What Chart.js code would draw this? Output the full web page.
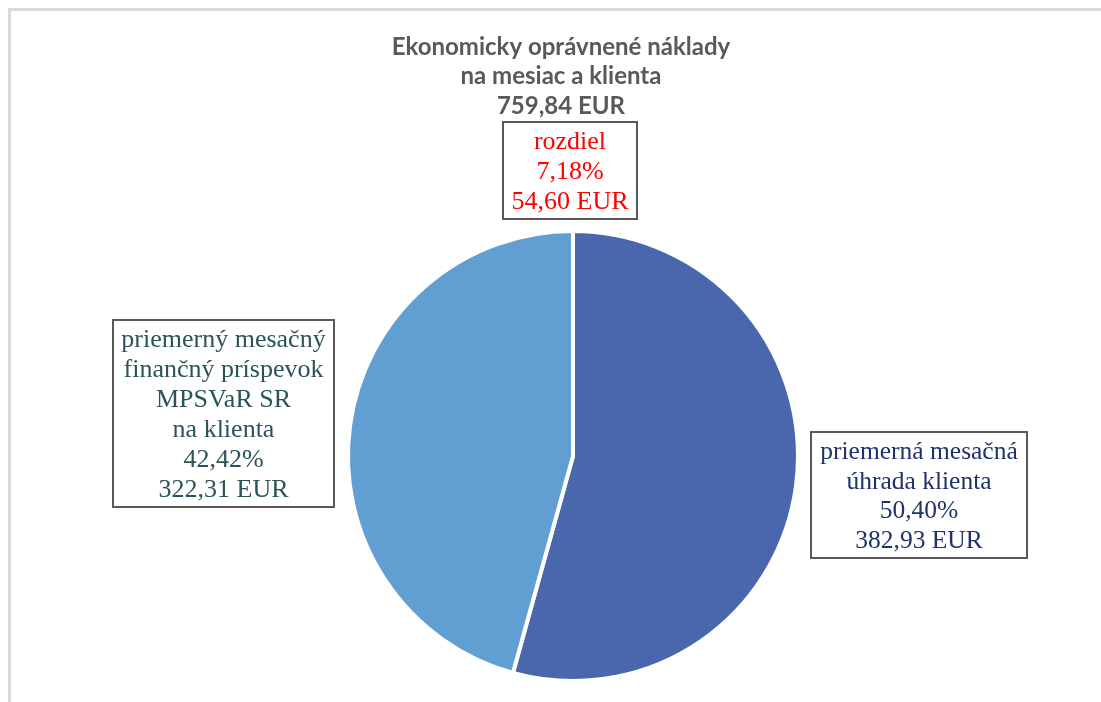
<!DOCTYPE html>
<html>
<head>
<meta charset="utf-8">
<script src="https://cdn.jsdelivr.net/npm/chart.js@4.4.0/dist/chart.umd.min.js"></script>
<style>
  html, body { margin: 0; padding: 0; background: #ffffff; }
  #wrap { width: 1101px; height: 702px; position: relative; }
</style>
</head>
<body>
<div id="wrap"><canvas id="c" width="1101" height="702"></canvas></div>
<script>
// ---- data ----
const categories = ["priemerná mesačná úhrada klienta", "priemerný mesačný finančný príspevok MPSVaR SR na klienta"];
const values = [382.93, 322.31];
const colors = ["#4a67ad", "#619ed2"];
const titleLines = ["Ekonomicky oprávnené náklady", "na mesiac a klienta", "759,84 EUR"];
const diffLines = ["rozdiel", "7,18%", "54,60 EUR"];
const rightLines = ["priemerná mesačná", "úhrada klienta", "50,40%", "382,93 EUR"];
const leftLines = ["priemerný mesačný", "finančný príspevok", "MPSVaR SR", "na klienta", "42,42%", "322,31 EUR"];

function drawBox(ctx, x, y, w, h, lines, color, lineH, font) {
  ctx.save();
  ctx.fillStyle = "#ffffff";
  ctx.fillRect(x, y, w, h);
  ctx.strokeStyle = "#595959";
  ctx.lineWidth = 2;
  ctx.strokeRect(x, y, w, h);
  ctx.fillStyle = color;
  ctx.font = font;
  ctx.textAlign = "center";
  ctx.textBaseline = "middle";
  const total = lines.length * lineH;
  let cy = y + (h - total) / 2 + lineH / 2 + 2;
  lines.forEach(l => { ctx.fillText(l, x + w / 2, cy); cy += lineH; });
  ctx.restore();
}

const decor = {
  id: "decor",
  beforeDraw(chart) {
    const ctx = chart.ctx;
    ctx.save();
    ctx.fillStyle = "#ffffff";
    ctx.fillRect(0, 0, chart.width, chart.height);
    ctx.fillStyle = "#d9d9d9";
    ctx.fillRect(8, 8, chart.width - 8, 3);
    ctx.fillRect(8, 8, 3, chart.height - 8);
    ctx.restore();
  },
  afterDraw(chart) {
    const ctx = chart.ctx;
    ctx.save();
    ctx.fillStyle = "#595959";
    ctx.font = "bold 24px Lato";
    ctx.textAlign = "center";
    ctx.textBaseline = "middle";
    const tx = 561;
    titleLines.forEach((l, i) => ctx.fillText(l, tx, 47 + i * 29.5));
    ctx.restore();
    const serif = "26px 'Liberation Serif'";
    drawBox(ctx, 503, 122, 134, 97, diffLines, "#ff0000", 30, serif);
    drawBox(ctx, 113, 320, 221, 187, leftLines, "#2a5457", 30, serif);
    drawBox(ctx, 811, 432, 216, 126, rightLines, "#1f326b", 29.5, "25.5px 'Liberation Serif'");
  }
};

new Chart(document.getElementById("c"), {
  type: "pie",
  data: {
    labels: categories,
    datasets: [{
      data: values,
      backgroundColor: colors,
      borderColor: "#ffffff",
      borderWidth: 4
    }]
  },
  options: {
    responsive: false,
    animation: false,
    layout: { padding: { top: 229, bottom: 19, left: 302, right: 257 } },
    plugins: {
      legend: { display: false },
      tooltip: { enabled: false },
      title: { display: false }
    }
  },
  plugins: [decor]
});
</script>
</body>
</html>
